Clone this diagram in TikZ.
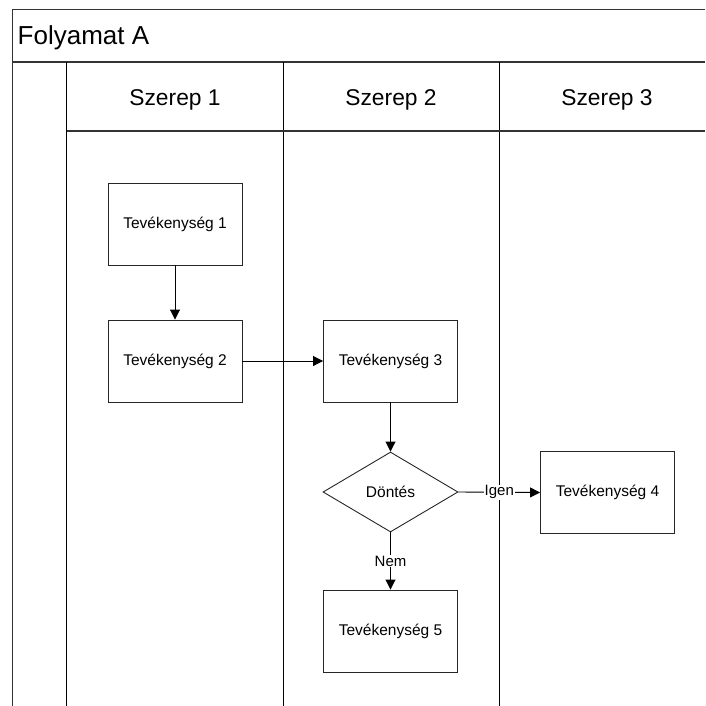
\documentclass[tikz,border=0pt]{standalone}
\usepackage{fontspec}
\setmainfont{Liberation Sans}
\usetikzlibrary{shapes.geometric,arrows.meta}
\begin{document}
\begin{tikzpicture}[x=1pt,y=-1pt,
  frameline/.style={draw=black!80,line width=1.1pt},
  laneline/.style={draw=black,line width=1pt},
  actbox/.style={draw=black!85,line width=0.9pt,minimum width=134pt,minimum height=82pt,inner sep=0pt,font=\fontsize{15.5}{18}\selectfont},
  decbox/.style={diamond,draw=black!85,line width=0.9pt,minimum width=135pt,minimum height=80pt,inner sep=0pt,aspect=1.69,font=\fontsize{15.5}{18}\selectfont},
  flow/.style={draw=black,line width=0.9pt,-{Triangle[length=10pt,width=10pt]}},
  flowlabel/.style={fill=white,inner sep=1pt,font=\fontsize{15}{18}\selectfont},
  titletext/.style={anchor=base west,inner sep=0pt,font=\fontsize{26}{30}\selectfont},
  headtext/.style={anchor=base,inner sep=0pt,font=\fontsize{22.8}{27}\selectfont}]
\useasboundingbox (0,0) rectangle (705,706);
% frame
\draw[frameline] (705,9.5) -- (12.5,9.5) -- (12.5,706);
\draw[frameline] (12.5,62) -- (705,62);
\draw[laneline] (66.5,62) -- (66.5,706);
\draw[laneline] (283.5,62) -- (283.5,706);
\draw[laneline] (499.5,62) -- (499.5,706);
\draw[frameline] (66.5,131) -- (705,131);
% title and headers
\node[titletext] (title) at (17.5,45) {Folyamat A};
\node[headtext] (h1) at (175,106) {Szerep 1};
\node[headtext] (h2) at (391,106) {Szerep 2};
\node[headtext] (h3) at (607,106) {Szerep 3};
% activities
\node[actbox] (t1) at (175,224) {Tevékenység 1};
\node[actbox] (t2) at (175,361) {Tevékenység 2};
\node[actbox] (t3) at (390.5,361) {Tevékenység 3};
\node[decbox] (d) at (390.5,492) {Döntés};
\node[actbox] (t4) at (607.5,492.5) {Tevékenység 4};
\node[actbox] (t5) at (390.5,631) {Tevékenység 5};
% connectors
\draw[flow] (t1) -- (t2);
\draw[flow] (t2) -- (t3);
\draw[flow] (t3) -- (d);
\draw[flow] (d.east) -- node[flowlabel] {Igen} (t4.west);
\draw[flow] (d.south) -- node[flowlabel] {Nem} (t5.north);
\end{tikzpicture}
\end{document}
